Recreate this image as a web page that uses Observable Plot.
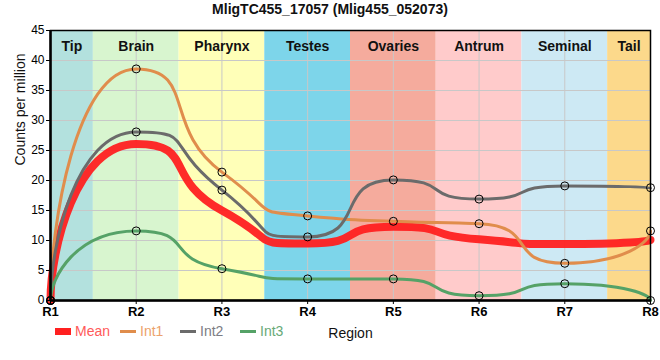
<!DOCTYPE html>
<html><head><meta charset="utf-8">
<script src="https://cdn.jsdelivr.net/npm/d3@7"></script>
<script src="https://cdn.jsdelivr.net/npm/@observablehq/plot@0.6"></script>
<style>
body{margin:0;background:#fff;font-family:"Liberation Sans",Arial,sans-serif;}
#wrap{position:relative;width:660px;height:360px;overflow:hidden;}
#chart{position:absolute;left:0;top:0;}
#title{position:absolute;top:1px;left:0;width:660px;text-align:center;font-weight:bold;font-size:14px;color:#111;}
.lg{position:absolute;top:323px;font-size:14px;display:flex;align-items:center;white-space:nowrap;}
.sw{display:inline-block;width:16px;margin-right:4px;}
</style></head>
<body><div id="wrap"><div id="chart"></div><div id="title">MligTC455_17057 (Mlig455_052073)</div><div id="legend"></div></div>
<script>
const regions = ["R1","R2","R3","R4","R5","R6","R7","R8"];
const tissues = ["Tip","Brain","Pharynx","Testes","Ovaries","Antrum","Seminal","Tail"];
const tissueColors = ["#b3e1de","#d8f5cf","#ffffb8","#7dd5ea","#f5ab9d","#ffcbcb","#cde9f4","#fcd98b"];
const seriesNames = ["Mean","Int1","Int2","Int3"];
const seriesColors = ["#ff2020","#e08d4c","#6b6b6b","#55a267"];
const legendTextColors = ["#ff5a5a","#eca26c","#7c7c84","#67a978"];
const mean = [0, 26.1, 15.0, 9.5, 12.3, 10.2, 9.4, 10.1];
const int1 = [0, 38.6, 21.4, 14.1, 13.2, 12.8, 6.2, 11.6];
const int2 = [0, 28.1, 18.4, 10.6, 20.1, 16.9, 19.1, 18.8];
const int3 = [0, 11.6, 5.3, 3.6, 3.6, 0.8, 2.8, 0];

// Smooth curve: flat at local extrema, long handles, steep free ends
function regionSpline(context) {
  let px = [], py = [];
  return {
    areaStart() {}, areaEnd() {},
    lineStart() { px = []; py = []; },
    point(x, y) { px.push(+x); py.push(+y); },
    lineEnd() {
      const n = px.length;
      if (!n) return;
      context.moveTo(px[0], py[0]);
      if (n === 1) return;
      const H = 0.7, C = 0.33, K = 1.5;
      const m = new Array(n).fill(0);
      for (let i = 1; i < n - 1; i++) {
        const d0 = px[i] - px[i - 1], d1 = px[i + 1] - px[i];
        const s0 = (py[i] - py[i - 1]) / d0, s1 = (py[i + 1] - py[i]) / d1;
        if (s0 * s1 <= 0) continue;
        const v = K * (s0 + s1) / 2;
        const lim = Math.min(Math.abs(py[i] - py[i - 1]) / (H * d0), Math.abs(py[i + 1] - py[i]) / (H * d1));
        m[i] = Math.sign(v) * Math.min(Math.abs(v), lim);
      }
      for (let i = 0; i < n - 1; i++) {
        const dx = px[i + 1] - px[i], dy = py[i + 1] - py[i];
        const c1x = i === 0 ? px[0] : px[i] + H * dx;
        const c1y = i === 0 ? py[0] + C * dy : py[i] + m[i] * H * dx;
        const c2x = i === n - 2 ? px[i + 1] : px[i + 1] - H * dx;
        const c2y = i === n - 2 ? py[i + 1] - C * dy : py[i + 1] - m[i + 1] * H * dx;
        context.bezierCurveTo(c1x, c1y, c2x, c2y, px[i + 1], py[i + 1]);
      }
    }
  };
}

const xs = regions.map((r, i) => i + 1);
const bands = tissues.map((t, i) => ({
  name: t, color: tissueColors[i],
  x1: Math.max(1, i + 0.5), x2: Math.min(regions.length, i + 1.5)
}));
const toRows = (vals, s) => vals.map((v, i) => ({x: xs[i], y: v, s}));
const meanRows = toRows(mean, "Mean");
const intRows = [...toRows(int1, "Int1"), ...toRows(int2, "Int2"), ...toRows(int3, "Int3")];

const plot = Plot.plot({
  width: 660, height: 360,
  marginTop: 30, marginBottom: 60, marginLeft: 50, marginRight: 10,
  style: {fontFamily: "'Liberation Sans', Arial, sans-serif", background: "transparent"},
  x: {domain: [1, regions.length]},
  y: {domain: [0, 45]},
  color: {domain: seriesNames, range: seriesColors},
  marks: [
    Plot.rect(bands, {x1: "x1", x2: "x2", fill: "color"}),
    Plot.gridX(xs, {stroke: "#c8c8c8", strokeOpacity: 1, strokeWidth: 1}),
    Plot.gridY(d3.range(0, 46, 5), {stroke: "#c8c8c8", strokeOpacity: 1, strokeWidth: 1}),
    Plot.text(bands, {x: d => (d.x1 + d.x2) / 2, text: "name", frameAnchor: "top", dy: 11, fontWeight: "bold", fontSize: 14, fill: "#111"}),
    Plot.line(meanRows, {x: "x", y: "y", stroke: "s", strokeWidth: 8, curve: regionSpline, strokeOpacity: 0.95}),
    Plot.line(intRows, {x: "x", y: "y", stroke: "s", z: "s", strokeWidth: 3, curve: regionSpline}),
    Plot.dot(intRows, {x: "x", y: "y", r: 4, stroke: "black", strokeWidth: 1, fill: "none"}),
    Plot.frame({stroke: "black", strokeWidth: 1.5}),
    Plot.ruleX([1], {stroke: "black", strokeWidth: 2.5}),
    Plot.ruleY([0], {stroke: "black", strokeWidth: 2.5}),
    Plot.axisY(d3.range(0, 46, 5), {tickSize: 4, tickPadding: 2, fontSize: 12, label: null, stroke: "black"}),
    Plot.axisX(xs, {tickSize: 4, tickPadding: 2, fontSize: 13, fontWeight: "bold", tickFormat: d => regions[d - 1], label: null, stroke: "black"}),
    Plot.text(["Counts per million"], {frameAnchor: "left", rotate: -90, dx: -30, fontSize: 14, fill: "#111"}),
    Plot.text(["Region"], {frameAnchor: "bottom", dy: 37, fontSize: 14, fill: "#111"})
  ]
});
document.getElementById("chart").appendChild(plot);

const lefts = [55, 120, 180, 240];
const legend = document.getElementById("legend");
seriesNames.forEach((n, i) => {
  const d = document.createElement("div");
  d.className = "lg";
  d.style.left = lefts[i] + "px";
  d.innerHTML = `<span class="sw" style="height:${i === 0 ? 7 : 3}px;background:${seriesColors[i]}"></span><span style="color:${legendTextColors[i]}">${n}</span>`;
  legend.appendChild(d);
});
</script></body></html>
